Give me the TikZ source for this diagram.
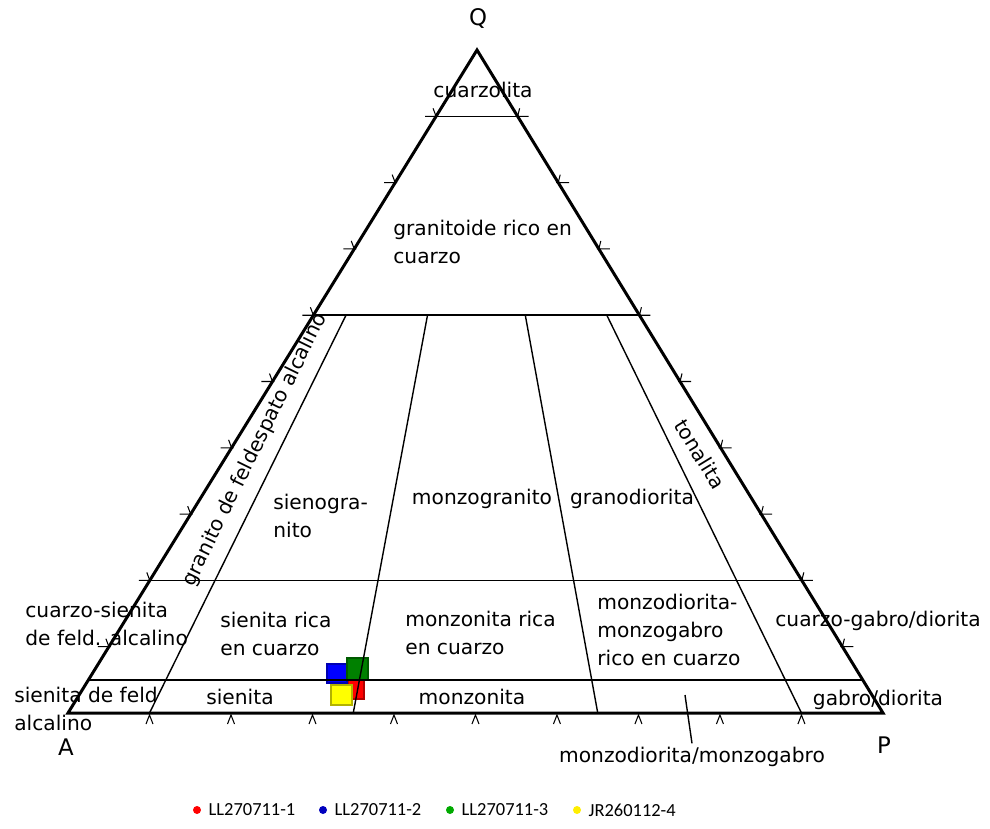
\documentclass[tikz,border=0pt]{standalone}
\usepackage{fontspec}
\setmainfont{DejaVu Sans}
\newfontfamily\legendfont{Carlito}
\usetikzlibrary{calc, positioning}
\definecolor{samplered}{RGB}{255, 0, 0}
\definecolor{sampleblue}{RGB}{0, 0, 255}
\definecolor{samplegreen}{RGB}{0, 128, 0}
\definecolor{sampleyellow}{RGB}{255, 255, 0}
\definecolor{dotblue}{RGB}{0, 0, 190}
\definecolor{dotgreen}{RGB}{0, 170, 0}
\definecolor{dotyellow}{RGB}{255, 238, 0}

\begin{document}
\begin{tikzpicture}[
    x=0.02cm, y=-0.02cm,
    border/.style={line width=1.7pt, line join=miter},
    field/.style={line width=0.8pt},
    tick/.style={line width=0.6pt},
    fieldname/.style={inner sep=0pt, align=left, font=\fontsize{11.5}{16}\selectfont},
    apex/.style={inner sep=0pt, font=\fontsize{13}{15}\selectfont},
    sample/.style={fill=#1, draw=#1!70!black, line width=0.6pt},
    legenddot/.style={circle, fill=#1, minimum size=0.16cm, inner sep=0pt},
    legendtext/.style={inner sep=0pt, font=\legendfont\fontsize{10.5}{12}\selectfont}
]
\useasboundingbox (0,0) rectangle (990,828);

% Corners
\coordinate (Q) at (477,50);
\coordinate (A) at (68,713);
\coordinate (P) at (883,713);

% Samples
\filldraw [sample=samplered] (348,680) rectangle (364,699);
\filldraw [sample=sampleblue] (327,664) rectangle (347,683);
\filldraw [sample=samplegreen] (347,658) rectangle (368,680);
\filldraw [sample=sampleyellow] (331,685) rectangle (352,705);

% Field boundaries
\foreach \q in {0.9, 0.6, 0.2, 0.05} {
    \draw [field] ($(A)!\q!(Q)$) -- ($(P)!\q!(Q)$);
}
\foreach \r in {0.1, 0.35, 0.65, 0.9} {
    \coordinate (b) at ($(A)!\r!(P)$);
    \draw [field] (b) -- ($(b)!0.6!(Q)$);
}

% Triangle
\draw [border] (A) -- (Q) -- (P) -- cycle;

% Ticks
\foreach \q in {0.1,0.2,...,0.9} {
    \coordinate (tl) at ($(A)!\q!(Q)$);
    \coordinate (tr) at ($(P)!\q!(Q)$);
    \coordinate (tb) at ($(A)!\q!(P)$);
    \draw [tick] ($(tl)+(-11,0)$) -- ($(tl)+(2,0)$) ($(tl)+(-3,-8)$) -- (tl);
    \draw [tick] ($(tr)+(-2,0)$) -- ($(tr)+(11,0)$) ($(tr)+(2,-8)$) -- (tr);
    \draw [tick] ($(tb)+(-3.5,11)$) -- ($(tb)+(0,2)$) -- ($(tb)+(3.5,11)$);
}

% Apex labels
\node (labelQ) [apex] at (478,18) {Q};
\node (labelA) [apex] at (66,747) {A};
\node (labelP) [apex] at (884,745) {P};

% Field names
\node (cuarzolita) [fieldname] at (483,90) {cuarzolita};
\node (granitoide) [fieldname, anchor=west] at (393,242) {granitoide rico en\\cuarzo};
\node (afgranito) [fieldname, rotate=63.8] at (255,450) {granito de feldespato alcalino};
\node (sienogranito) [fieldname, anchor=west] at (273,516) {sienogra-\\nito};
\node (monzogranito) [fieldname] at (482,499) {monzogranito};
\node (granodiorita) [fieldname] at (632,499) {granodiorita};
\node (tonalita) [fieldname, rotate=-58.5] at (700,454) {tonalita};
\node (qafsienita) [fieldname, anchor=west] at (25,624) {cuarzo-sienita\\de feld. alcalino};
\node (qsienita) [fieldname, anchor=west] at (220,634) {sienita rica\\en cuarzo};
\node (qmonzonita) [fieldname, anchor=west] at (405,633) {monzonita rica\\en cuarzo};
\node (qmonzodiorita) [fieldname, anchor=west] at (597,630) {monzodiorita-\\monzogabro\\rico en cuarzo};
\node (qgabro) [fieldname] at (878,621) {cuarzo-gabro/diorita};
\node (afsienita) [fieldname, anchor=west] at (14,709) {sienita de feld\\alcalino};
\node (sienita) [fieldname] at (240,697) {sienita};
\node (monzonita) [fieldname] at (472,697) {monzonita};
\node (gabro) [fieldname] at (878,700) {gabro/diorita};
\node (monzodiorita) [fieldname] at (692,757) {monzodiorita/monzogabro};

% Leader
\coordinate (mdtip) at (685,695);
\draw [field] (mdtip) -- ([yshift=2pt]monzodiorita.north);

% Legend
\node (dot1) [legenddot=samplered] at (197,810) {};
\node (leg1) [legendtext, right=0.14cm of dot1] {LL270711-1};
\node (dot2) [legenddot=dotblue] at (323,810) {};
\node (leg2) [legendtext, right=0.14cm of dot2] {LL270711-2};
\node (dot3) [legenddot=dotgreen] at (450,810) {};
\node (leg3) [legendtext, right=0.14cm of dot3] {LL270711-3};
\node (dot4) [legenddot=dotyellow] at (577,810) {};
\node (leg4) [legendtext, right=0.14cm of dot4] {JR260112-4};

\end{tikzpicture}
\end{document}
